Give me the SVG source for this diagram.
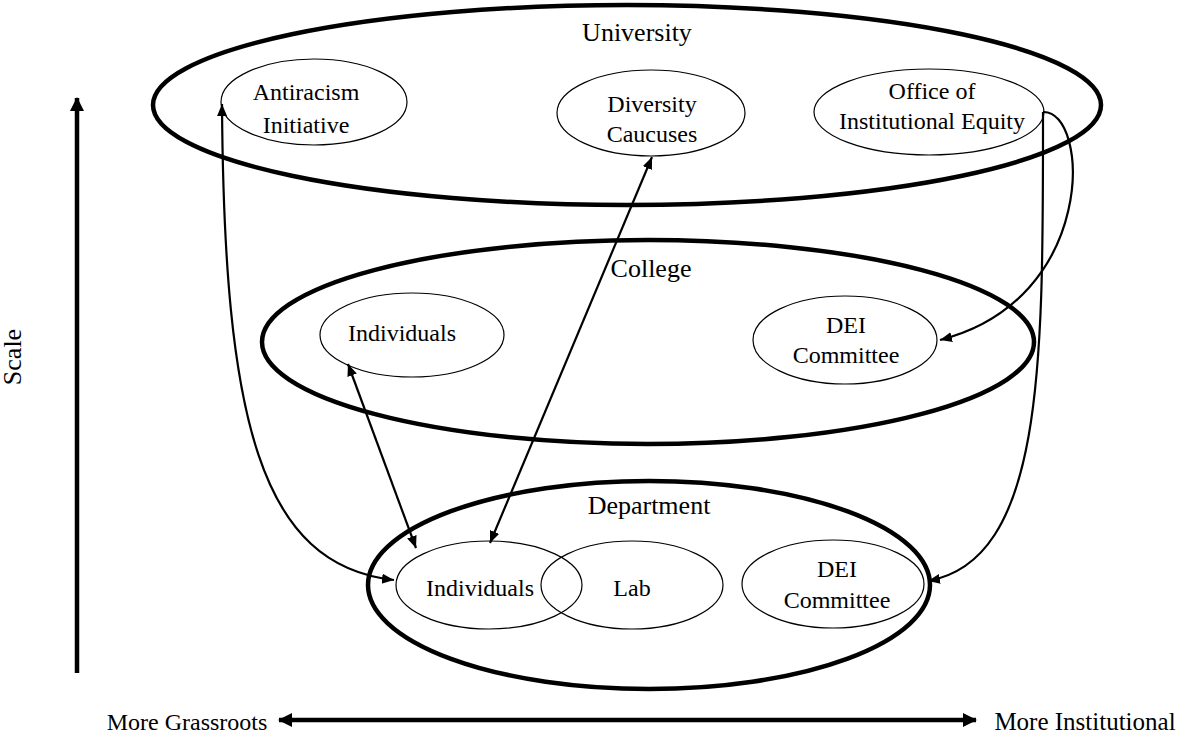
<svg xmlns="http://www.w3.org/2000/svg" width="1186" height="738" viewBox="0 0 1186 738">
<style>
text{font-family:"Liberation Serif","Times New Roman",serif;fill:#000;text-anchor:middle}
.lvl{font-size:26px}
.nd{font-size:24px}
.big{fill:none;stroke:#000;stroke-width:4.5}
.sm{fill:none;stroke:#000;stroke-width:1.2}
.con{fill:none;stroke:#000;stroke-width:2.2}
.axis{fill:none;stroke:#000;stroke-width:4.5}
</style>
<defs>
<marker id="ah" markerUnits="userSpaceOnUse" markerWidth="14" markerHeight="12" refX="12" refY="5" orient="auto-start-reverse">
<path d="M0,0 L12,5 L0,10 Z" fill="#000"/>
</marker>
<marker id="axh" markerUnits="userSpaceOnUse" markerWidth="16" markerHeight="16" refX="13" refY="7" orient="auto-start-reverse">
<path d="M0,0 L14,7 L0,14 Z" fill="#000"/>
</marker>
</defs>
<g id="university">
<ellipse class="big" cx="627" cy="105" rx="474" ry="100"/>
<text class="lvl" x="637" y="41">University</text>
</g>
<g id="college">
<ellipse class="big" cx="648" cy="342" rx="386" ry="102"/>
<text class="lvl" x="651" y="277">College</text>
</g>
<g id="department">
<ellipse class="big" cx="649" cy="585" rx="281" ry="104"/>
<text class="lvl" x="649" y="514">Department</text>
</g>
<g id="antiracism">
<ellipse class="sm" cx="314" cy="102" rx="93" ry="43"/>
<text class="nd" x="306" y="100">Antiracism</text>
<text class="nd" x="306" y="133">Initiative</text>
</g>
<g id="caucuses">
<ellipse class="sm" cx="651" cy="113" rx="94" ry="43"/>
<text class="nd" x="652" y="112">Diversity</text>
<text class="nd" x="652" y="142">Caucuses</text>
</g>
<g id="oie">
<ellipse class="sm" cx="929" cy="112" rx="115" ry="43"/>
<text class="nd" x="932" y="99">Office of</text>
<text class="nd" x="932" y="129">Institutional Equity</text>
</g>
<g id="college-individuals">
<ellipse class="sm" cx="412" cy="335" rx="92" ry="42"/>
<text class="nd" x="402" y="341">Individuals</text>
</g>
<g id="college-dei">
<ellipse class="sm" cx="845" cy="340" rx="92" ry="44"/>
<text class="nd" x="846" y="333">DEI</text>
<text class="nd" x="846" y="363">Committee</text>
</g>
<g id="dept-individuals">
<ellipse class="sm" cx="489" cy="585" rx="93" ry="44"/>
<text class="nd" x="480" y="596">Individuals</text>
</g>
<g id="lab">
<ellipse class="sm" cx="632" cy="585" rx="91" ry="44"/>
<text class="nd" x="632" y="596">Lab</text>
</g>
<g id="dept-dei">
<ellipse class="sm" cx="833" cy="584" rx="91" ry="44"/>
<text class="nd" x="837" y="577">DEI</text>
<text class="nd" x="837" y="608">Committee</text>
</g>
<g id="connectors">
<path class="con" d="M222,104 C224,420 260,565 394,580" marker-start="url(#ah)" marker-end="url(#ah)"/>
<path class="con" d="M652,157 L490,543" marker-start="url(#ah)" marker-end="url(#ah)"/>
<path class="con" d="M348,364 L416,548" marker-start="url(#ah)" marker-end="url(#ah)"/>
<path class="con" d="M1043,112 C1090,110 1098,300 940,340" marker-end="url(#ah)"/>
<path class="con" d="M1043,112 C1043,360 1045,560 928,581" marker-end="url(#ah)"/>
</g>
<g id="axes">
<line class="axis" x1="77" y1="673" x2="77" y2="98" marker-end="url(#axh)"/>
<line class="axis" x1="279" y1="720" x2="976" y2="720" marker-start="url(#axh)" marker-end="url(#axh)"/>
<text x="0" y="0" font-size="26" transform="translate(21,357) rotate(-90)">Scale</text>
<text class="nd" x="187" y="730">More Grassroots</text>
<text x="1085" y="730" font-size="25">More Institutional</text>
</g>
</svg>
